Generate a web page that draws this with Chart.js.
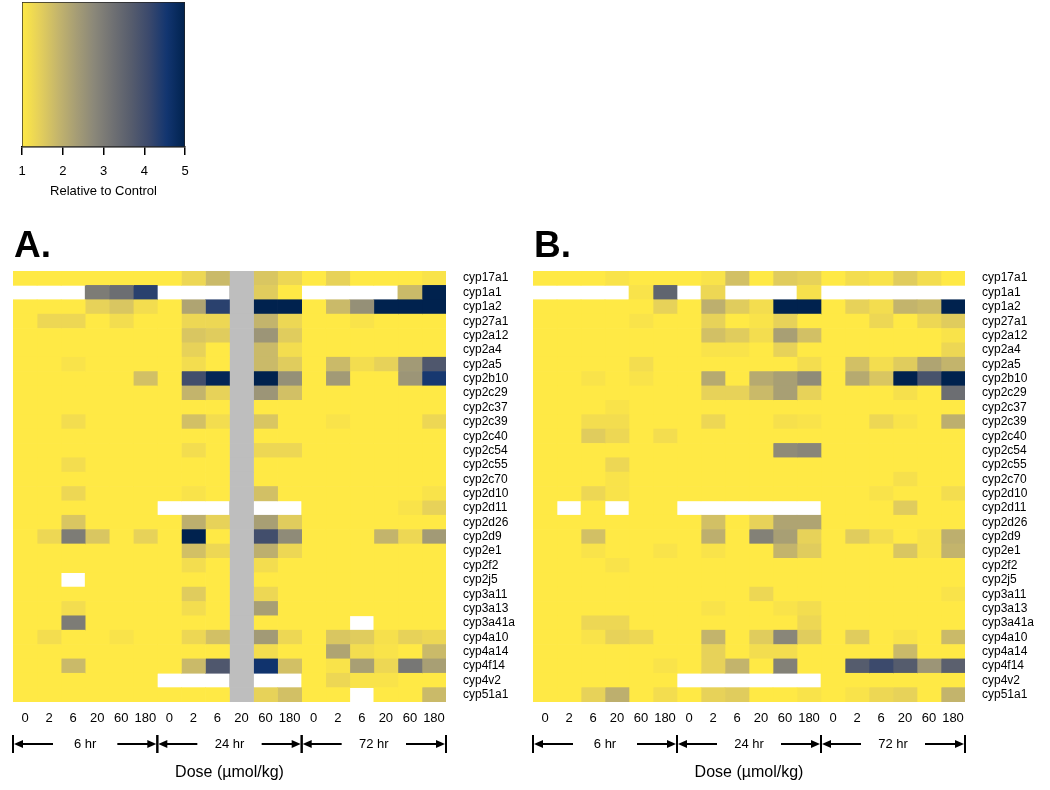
<!DOCTYPE html>
<html>
<head>
<meta charset="utf-8">
<script src="https://cdn.jsdelivr.net/npm/chart.js@4.4.1/dist/chart.umd.min.js"></script>
<style>
  body { margin: 0; background: #fff; width: 1050px; height: 790px; position: relative; overflow: hidden; }
  .box { position: absolute; }
</style>
</head>
<body>
<div class="box" style="left:0;top:0;width:205px;height:205px"><canvas id="legendChart"></canvas></div>
<div class="box" style="left:0;top:220px;width:525px;height:570px"><canvas id="chartA"></canvas></div>
<div class="box" style="left:520px;top:220px;width:530px;height:570px"><canvas id="chartB"></canvas></div>
<script>
// ==========================
// Data
// ==========================

const N = null;

const genes = [
  "cyp17a1", "cyp1a1", "cyp1a2", "cyp27a1", "cyp2a12", "cyp2a4", "cyp2a5", "cyp2b10",
  "cyp2c29", "cyp2c37", "cyp2c39", "cyp2c40", "cyp2c54", "cyp2c55", "cyp2c70", "cyp2d10",
  "cyp2d11", "cyp2d26", "cyp2d9", "cyp2e1", "cyp2f2", "cyp2j5", "cyp3a11", "cyp3a13",
  "cyp3a41a", "cyp4a10", "cyp4a14", "cyp4f14", "cyp4v2", "cyp51a1"
];

const times = ["6 hr", "24 hr", "72 hr"];
const doses = ["0", "2", "6", "20", "60", "180"];
const legendTicks = [1, 2, 3, 4, 5];

// fold change relative to control, one row per gene, 6 doses x 3 times
const panelA = [
  [1, 1, 1, 1, 1, 1, 1, 1.3, 1.8, N, 1.6, 1.3, 1, 1.4, 1, 1, 1, 1.1],
  [N, N, N, 3.0, 3.3, 4.3, N, N, N, N, 1.5, 1, N, N, N, N, 1.8, 5],
  [1, 1, 1, 1.4, 1.6, 1.2, 1, 2.2, 4.3, N, 5, 5, 1, 1.8, 2.6, 5, 5, 5],
  [1, 1.3, 1.3, 1, 1.2, 1, 1, 1.3, 1.3, N, 1.9, 1.3, 1, 1, 1.1, 1, 1, 1],
  [1, 1, 1, 1, 1, 1, 1, 1.6, 1.5, N, 2.5, 1.5, 1, 1, 1, 1, 1, 1],
  [1, 1, 1, 1, 1, 1, 1, 1.4, 1, N, 1.8, 1.2, 1, 1, 1, 1, 1, 1],
  [1, 1, 1.1, 1, 1, 1, 1, 1.2, 1, N, 1.8, 1.5, 1, 1.8, 1.2, 1.4, 2.4, 3.8],
  [1, 1, 1, 1, 1, 1.7, 1, 4.0, 4.9, N, 5, 2.6, 1, 2.4, 1, 1, 2.5, 4.5],
  [1, 1, 1, 1, 1, 1, 1, 1.9, 1.4, N, 2.5, 1.7, 1, 1, 1, 1, 1, 1],
  [1, 1, 1, 1, 1, 1, 1, 1, 1, N, 1, 1, 1, 1, 1, 1, 1, 1],
  [1, 1, 1.2, 1, 1, 1, 1, 1.7, 1.2, N, 1.6, 1, 1, 1.1, 1, 1, 1, 1.3],
  [1, 1, 1, 1, 1, 1, 1, 1, 1, N, 1, 1, 1, 1, 1, 1, 1, 1],
  [1, 1, 1, 1, 1, 1, 1, 1.2, 1, N, 1.3, 1.3, 1, 1, 1, 1, 1, 1],
  [1, 1, 1.2, 1, 1, 1, 1, 1, 1, N, 1, 1, 1, 1, 1, 1, 1, 1],
  [1, 1, 1, 1, 1, 1, 1, 1, 1, N, 1, 1, 1, 1, 1, 1, 1, 1],
  [1, 1, 1.3, 1, 1, 1, 1, 1.1, 1, N, 1.7, 1, 1, 1, 1, 1, 1, 1.1],
  [1, 1, 1, 1, 1, 1, N, N, N, N, N, N, 1, 1, 1, 1, 1.1, 1.4],
  [1, 1, 1.6, 1, 1, 1, 1, 2.0, 1.4, N, 2.3, 1.5, 1, 1, 1, 1, 1, 1],
  [1, 1.3, 3.0, 1.6, 1, 1.4, 1, 5, 1, N, 4.0, 2.7, 1, 1, 1, 1.9, 1.3, 2.4],
  [1, 1, 1, 1, 1, 1, 1, 1.7, 1.3, N, 2.0, 1.3, 1, 1, 1, 1, 1, 1],
  [1, 1, 1, 1, 1, 1, 1, 1.2, 1, N, 1.2, 1, 1, 1, 1, 1, 1, 1],
  [1, 1, N, 1, 1, 1, 1, 1, 1, N, 1, 1, 1, 1, 1, 1, 1, 1],
  [1, 1, 1, 1, 1, 1, 1, 1.5, 1, N, 1.3, 1, 1, 1, 1, 1, 1, 1],
  [1, 1, 1.2, 1, 1, 1, 1, 1.2, 1, N, 2.3, 1, 1, 1, 1, 1, 1, 1],
  [1, 1, 3.0, 1, 1, 1, 1, 1, 1, N, 1, 1, 1, 1, N, 1, 1, 1],
  [1, 1.2, 1, 1, 1.1, 1, 1, 1.3, 1.7, N, 2.4, 1.3, 1, 1.6, 1.5, 1.15, 1.4, 1.3],
  [1, 1, 1, 1, 1, 1, 1, 1, 1, N, 1.2, 1, 1, 2.2, 1.2, 1.1, 1, 1.8],
  [1, 1, 1.8, 1, 1, 1, 1, 1.8, 3.8, N, 4.6, 1.7, 1, 1.1, 2.3, 1.3, 3.1, 2.3],
  [1, 1, 1, 1, 1, 1, N, N, N, N, N, N, 1, 1.3, 1.1, 1.1, 1, 1],
  [1, 1, 1, 1, 1, 1, 1, 1, 1, N, 1.4, 1.7, 1, 1, N, 1, 1, 1.8]
];
// 24 hr / 20 µmol/kg has no samples in panel A
const greyColsA = [9];

const panelB = [
  [1, 1, 1, 1.1, 1, 1, 1, 1.1, 1.7, 1, 1.5, 1.4, 1, 1.2, 1.1, 1.5, 1.2, 1],
  [N, N, N, N, 1.1, 3.5, N, 1.3, N, N, N, 1.15, N, N, N, N, N, N],
  [1, 1, 1, 1, 1, 1.4, 1, 2.0, 1.5, 1.2, 5, 5, 1, 1.4, 1.2, 1.9, 1.8, 5],
  [1, 1, 1, 1, 1.1, 1, 1, 1.4, 1, 1.1, 1.4, 1, 1, 1, 1.3, 1, 1.3, 1.5],
  [1, 1, 1, 1, 1, 1, 1, 1.7, 1.5, 1.2, 2.3, 1.7, 1, 1, 1, 1, 1, 1.1],
  [1, 1, 1, 1, 1, 1, 1, 1.1, 1.1, 1, 1.4, 1, 1, 1, 1, 1, 1, 1.3],
  [1, 1, 1, 1, 1.2, 1, 1, 1, 1, 1, 1, 1.2, 1, 1.7, 1.2, 1.5, 2.2, 1.9],
  [1, 1, 1.1, 1, 1.1, 1, 1, 2.1, 1, 2.1, 2.3, 2.7, 1, 2.1, 1.6, 5, 3.9, 5],
  [1, 1, 1, 1, 1, 1, 1, 1.4, 1.4, 1.8, 2.3, 1.4, 1, 1, 1, 1.15, 1, 3.3],
  [1, 1, 1, 1.1, 1, 1, 1, 1, 1, 1, 1, 1, 1, 1, 1, 1, 1, 1],
  [1, 1, 1.2, 1.2, 1, 1, 1, 1.3, 1, 1, 1.15, 1.1, 1, 1, 1.3, 1.1, 1, 2.0],
  [1, 1, 1.5, 1.3, 1, 1.2, 1, 1, 1, 1, 1, 1, 1, 1, 1, 1, 1, 1],
  [1, 1, 1, 1, 1, 1, 1, 1, 1, 1, 2.7, 2.8, 1, 1, 1, 1, 1, 1],
  [1, 1, 1, 1.3, 1, 1, 1, 1, 1, 1, 1, 1, 1, 1, 1, 1, 1, 1],
  [1, 1, 1, 1.1, 1, 1, 1, 1, 1, 1, 1, 1, 1, 1, 1, 1.15, 1, 1],
  [1, 1, 1.3, 1.1, 1, 1, 1, 1, 1, 1, 1, 1, 1, 1, 1.1, 1, 1, 1.2],
  [1, N, 1, N, 1, 1, N, N, N, N, N, N, 1, 1, 1, 1.5, 1, 1],
  [1, 1, 1, 1, 1, 1, 1, 1.7, 1, 1.4, 2.2, 2.2, 1, 1, 1, 1, 1, 1],
  [1, 1, 1.7, 1, 1, 1, 1, 2.0, 1, 2.9, 2.3, 1.4, 1, 1.5, 1.2, 1, 1.1, 2.0],
  [1, 1, 1.1, 1, 1, 1.1, 1, 1.1, 1, 1, 1.9, 1.5, 1, 1, 1, 1.6, 1.1, 1.9],
  [1, 1, 1, 1.1, 1, 1, 1, 1, 1, 1, 1, 1, 1, 1, 1, 1, 1, 1],
  [1, 1, 1, 1, 1, 1, 1, 1, 1, 1, 1, 1, 1, 1, 1, 1, 1, 1],
  [1, 1, 1, 1, 1, 1, 1, 1, 1, 1.3, 1, 1, 1, 1, 1, 1, 1, 1.1],
  [1, 1, 1, 1, 1, 1, 1, 1.1, 1, 1, 1.1, 1.2, 1, 1, 1, 1, 1, 1],
  [1, 1, 1.3, 1.3, 1, 1, 1, 1, 1, 1, 1, 1.3, 1, 1, 1, 1, 1, 1],
  [1, 1, 1.1, 1.4, 1.3, 1, 1, 1.9, 1, 1.5, 2.8, 1.5, 1, 1.5, 1, 1.1, 1, 1.8],
  [1, 1, 1, 1, 1, 1, 1, 1.4, 1, 1.2, 1.2, 1, 1, 1, 1, 1.8, 1, 1],
  [1, 1, 1, 1, 1, 1.1, 1, 1.4, 1.9, 1, 2.9, 1, 1, 3.7, 4.1, 3.7, 2.5, 3.6],
  [1, 1, 1, 1, 1, 1, N, N, N, N, N, N, 1, 1, 1, 1, 1, 1],
  [1, 1, 1.4, 2.0, 1, 1.2, 1, 1.4, 1.5, 1, 1, 1.1, 1, 1.1, 1.3, 1.4, 1, 1.9]
];
const greyColsB = [];

// ==========================
// Colour scale (cividis, yellow = 1, navy = 5)
// ==========================

const FONT = "'Liberation Sans', Arial, Helvetica, sans-serif";
Chart.defaults.font.family = FONT;
Chart.defaults.color = "#000";

const stops = [
  [255, 233, 69], [228, 207, 91], [196, 181, 108], [166, 157, 117], [138, 135, 121],
  [112, 113, 115], [87, 93, 109], [59, 73, 108], [18, 53, 112], [0, 34, 78]
];

function colourFor(v) {
  let t = (Math.min(Math.max(v, 1), 5) - 1) / 4 * (stops.length - 1);
  const i = Math.min(Math.floor(t), stops.length - 2);
  const f = t - i;
  const a = stops[i], b = stops[i + 1];
  const c = a.map((x, k) => Math.round(x + (b[k] - x) * f));
  return `rgb(${c[0]},${c[1]},${c[2]})`;
}

// ==========================
// Colour key
// ==========================

new Chart(document.getElementById("legendChart"), {
  type: "bar",
  data: {
    labels: [""],
    datasets: [{
      data: [[legendTicks[0], legendTicks[legendTicks.length - 1]]],
      backgroundColor: (ctx) => {
        const area = ctx.chart.chartArea;
        if (!area) return "#fff";
        const g = ctx.chart.ctx.createLinearGradient(area.left, 0, area.right, 0);
        stops.forEach((s, i) => g.addColorStop(i / (stops.length - 1), `rgb(${s[0]},${s[1]},${s[2]})`));
        return g;
      },
      borderColor: "#222",
      borderWidth: 1,
      borderSkipped: false,
      barPercentage: 1,
      categoryPercentage: 1
    }]
  },
  options: {
    indexAxis: "y",
    responsive: true,
    maintainAspectRatio: false,
    animation: false,
    layout: { padding: { left: 22, right: 20, top: 2, bottom: 0 } },
    plugins: { legend: { display: false }, tooltip: { enabled: false } },
    scales: {
      y: { display: false },
      x: {
        type: "linear",
        min: 1,
        max: 5,
        afterBuildTicks: (s) => { s.ticks = legendTicks.map((v) => ({ value: v })); },
        ticks: { font: { size: 13 }, padding: 9, color: "#000" },
        grid: { drawOnChartArea: false, drawTicks: true, tickLength: 8, color: "#000", lineWidth: 1.5 },
        border: { display: true, color: "#000", width: 1.5 },
        title: { display: true, text: "Relative to Control", font: { size: 13 }, padding: { top: 4, bottom: 6 } },
        afterFit: (s) => { s.height = 58; }
      }
    }
  }
});

// ==========================
// Heatmap panels
// ==========================

const columns = times.flatMap(() => doses);

const panelPlugin = {
  id: "panelDecor",
  afterDraw(chart, args, opts) {
    const { ctx, chartArea } = chart;
    const x = chart.scales.x;
    ctx.save();
    ctx.fillStyle = "#000";
    ctx.strokeStyle = "#000";

    ctx.font = `bold 37px ${FONT}`;
    ctx.textAlign = "left";
    ctx.textBaseline = "alphabetic";
    ctx.fillText(opts.letter, chartArea.left + 1, chartArea.top - 14);

    const y = chartArea.bottom + 42;
    ctx.font = `13px ${FONT}`;
    ctx.textAlign = "center";
    ctx.textBaseline = "middle";
    ctx.lineWidth = 2;
    const arrowLen = 40;

    times.forEach((t, i) => {
      const x0 = x.getPixelForValue(i * doses.length);
      const x1 = x.getPixelForValue((i + 1) * doses.length);
      [x0, x1].forEach((bx) => {
        ctx.beginPath();
        ctx.moveTo(bx, y - 9);
        ctx.lineTo(bx, y + 9);
        ctx.stroke();
      });
      // left arrow
      ctx.beginPath();
      ctx.moveTo(x0 + 6, y);
      ctx.lineTo(x0 + arrowLen, y);
      ctx.stroke();
      ctx.beginPath();
      ctx.moveTo(x0 + 1, y);
      ctx.lineTo(x0 + 10, y - 4);
      ctx.lineTo(x0 + 10, y + 4);
      ctx.closePath();
      ctx.fill();
      // right arrow
      ctx.beginPath();
      ctx.moveTo(x1 - arrowLen, y);
      ctx.lineTo(x1 - 6, y);
      ctx.stroke();
      ctx.beginPath();
      ctx.moveTo(x1 - 1, y);
      ctx.lineTo(x1 - 10, y - 4);
      ctx.lineTo(x1 - 10, y + 4);
      ctx.closePath();
      ctx.fill();

      ctx.fillText(t, (x0 + x1) / 2, y);
    });
    ctx.restore();
  }
};

function buildPanel(canvasId, letter, values, greyCols, axisWidth) {
  const datasets = columns.map((label, c) => {
    const grey = greyCols.includes(c);
    return {
      label: `${times[Math.floor(c / doses.length)]} ${label}`,
      data: genes.map((g, r) => (grey || values[r][c] != null ? [c, c + 1] : null)),
      backgroundColor: genes.map((g, r) => (grey ? "#bebebe" : values[r][c] != null ? colourFor(values[r][c]) : "#fff")),
      borderWidth: 0,
      barPercentage: 1,
      categoryPercentage: 1,
      grouped: false
    };
  });

  new Chart(document.getElementById(canvasId), {
    type: "bar",
    data: { labels: genes, datasets },
    plugins: [panelPlugin],
    options: {
      indexAxis: "y",
      responsive: true,
      maintainAspectRatio: false,
      animation: false,
      layout: { padding: { left: 13, top: 51, right: 0, bottom: 0 } },
      plugins: {
        legend: { display: false },
        tooltip: { enabled: false },
        panelDecor: { letter }
      },
      scales: {
        x: { type: "linear", min: 0, max: columns.length, display: false },
        y: {
          type: "category",
          position: "right",
          offset: true,
          grid: { display: false, drawTicks: false },
          border: { display: false },
          ticks: { font: { size: 12 }, color: "#000", padding: 17, autoSkip: false },
          afterFit: (s) => { s.width = axisWidth; }
        },
        cols: {
          type: "category",
          axis: "x",
          position: "bottom",
          labels: columns,
          offset: true,
          grid: { display: false, drawTicks: false },
          border: { display: false },
          ticks: { font: { size: 13 }, color: "#000", padding: 9, autoSkip: false, maxRotation: 0 },
          title: { display: true, text: "Dose (µmol/kg)", font: { size: 16 }, padding: { top: 4, bottom: 8 } },
          afterFit: (s) => { s.height = 88; }
        }
      }
    }
  });
}

buildPanel("chartA", "A.", panelA, greyColsA, 79);
buildPanel("chartB", "B.", panelB, greyColsB, 85);
</script>
</body>
</html>
